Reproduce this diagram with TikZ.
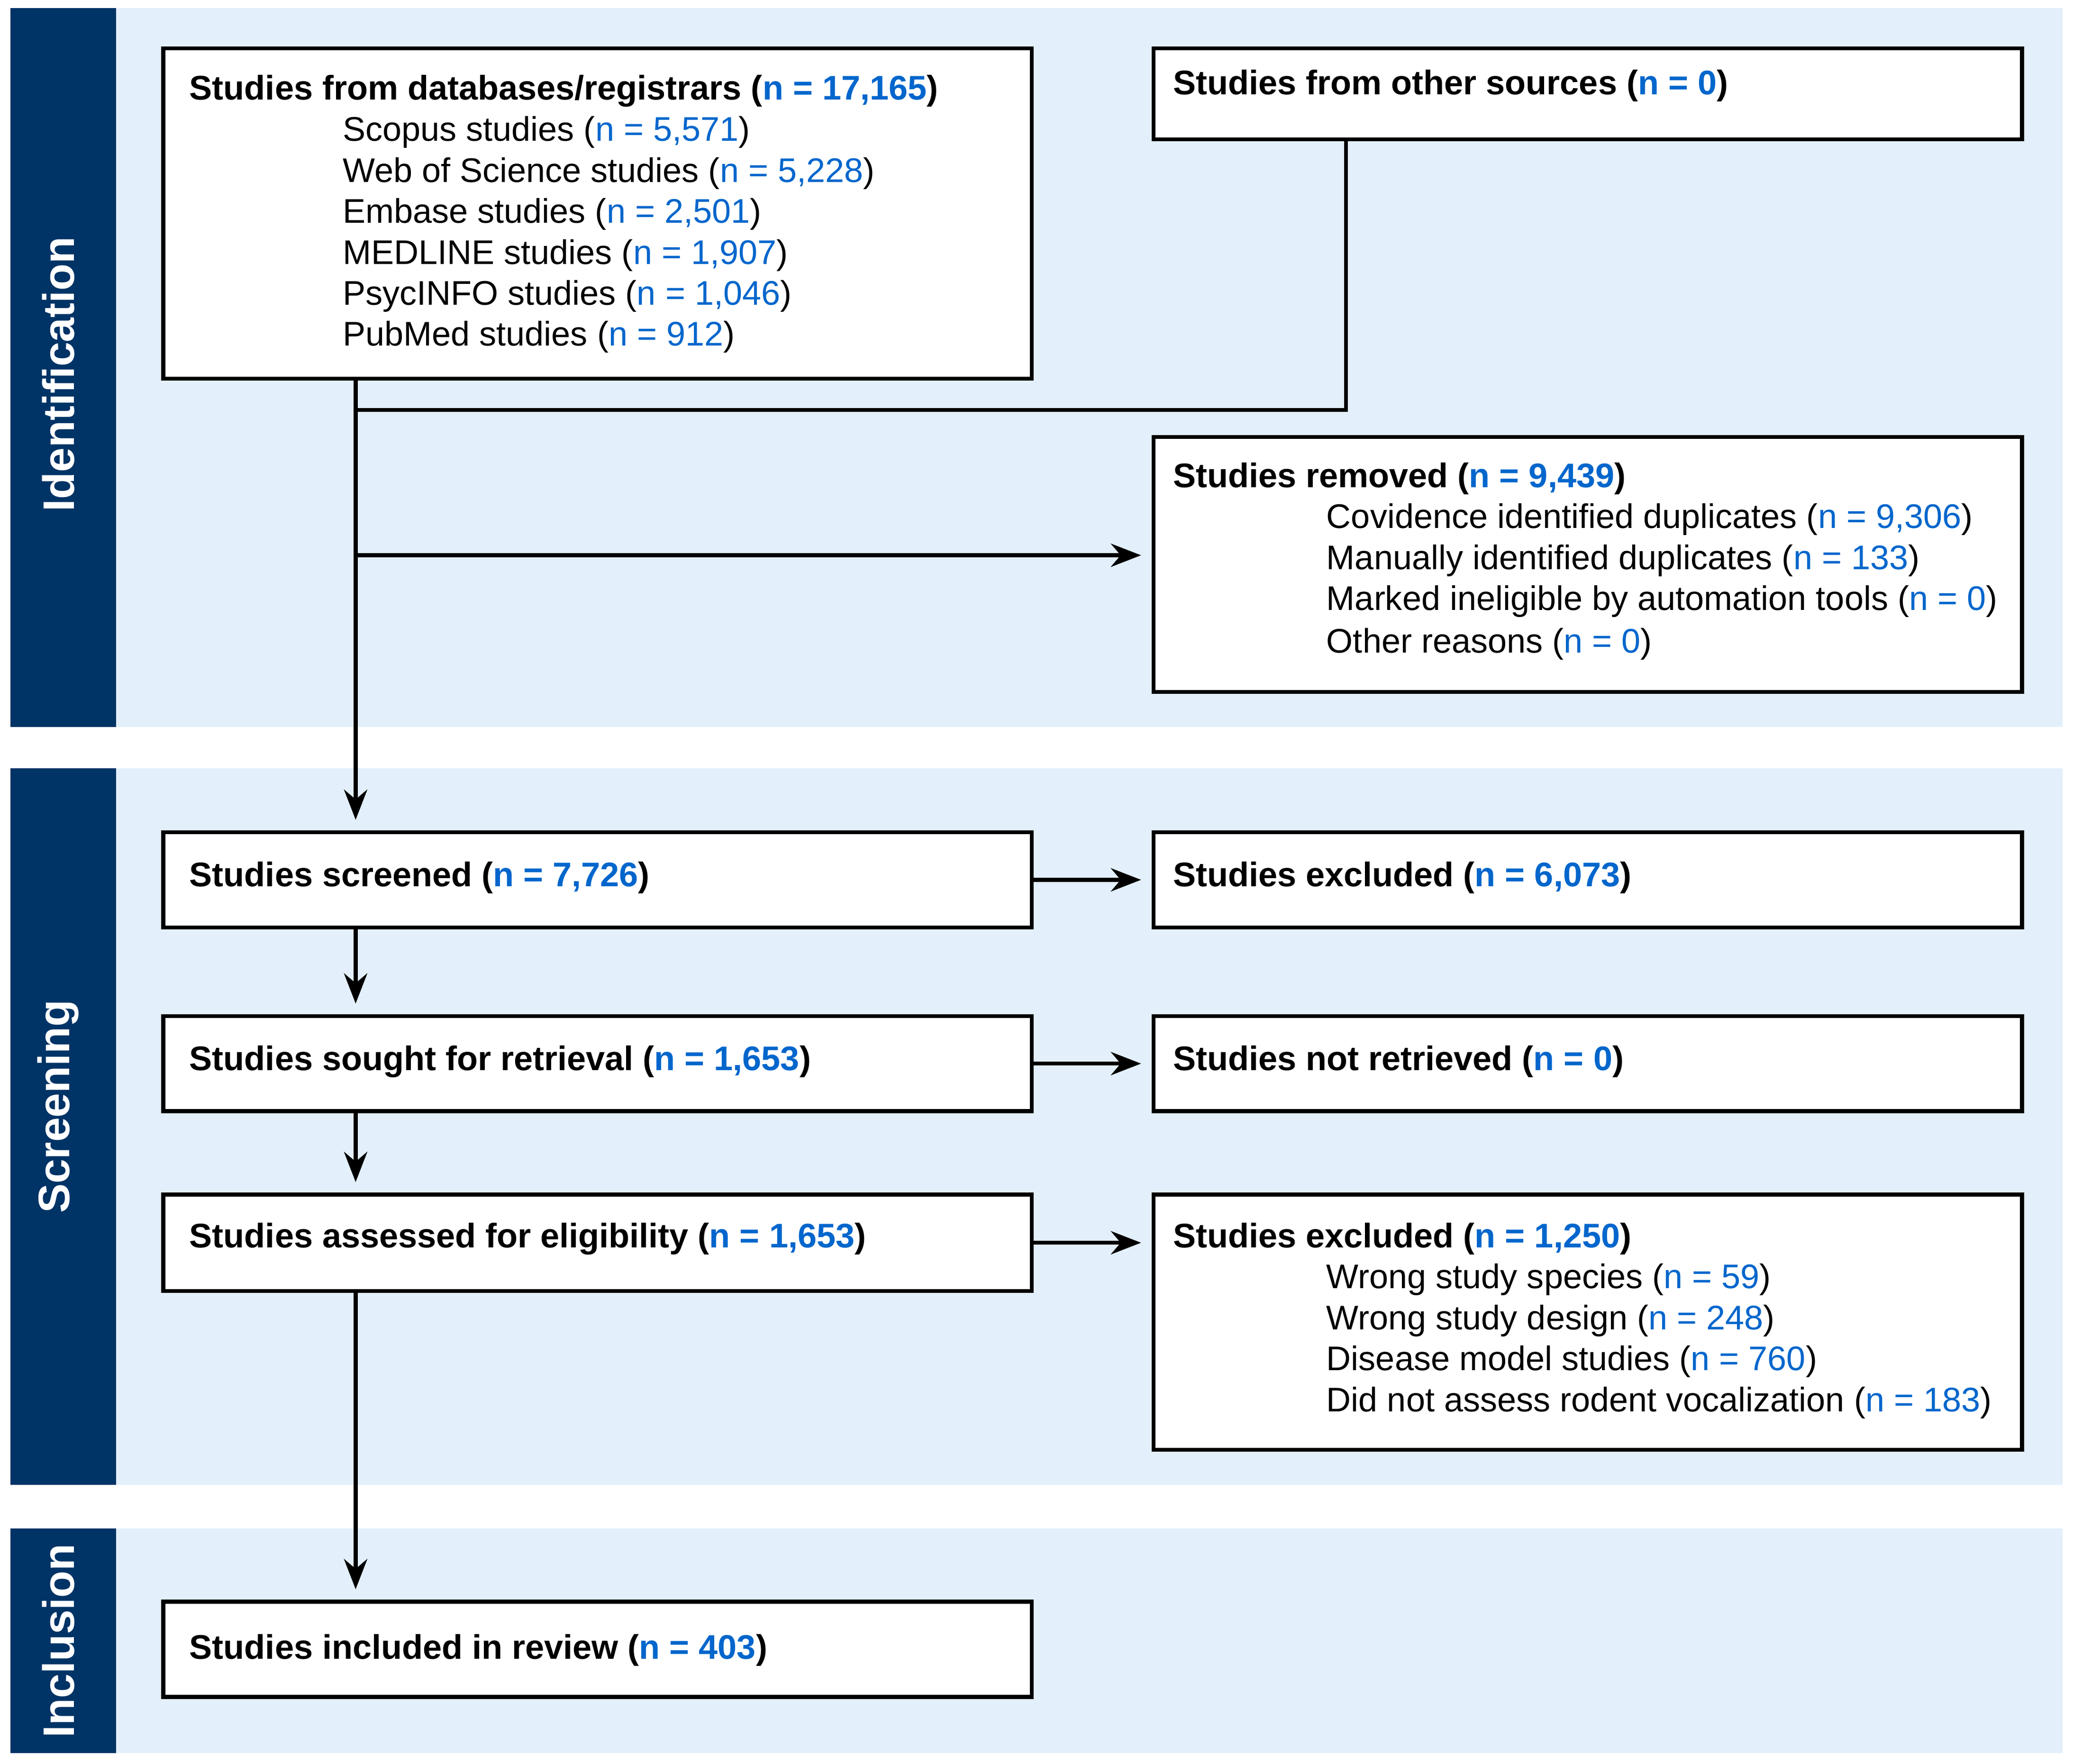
\documentclass[tikz,border=0pt]{standalone}
\usepackage{fontspec}
\setmainfont{Liberation Sans}
\usetikzlibrary{arrows.meta}
\definecolor{navy}{HTML}{003366}
\definecolor{lightbg}{HTML}{E3F0FB}
\definecolor{nblue}{HTML}{0066CC}
\newcommand\nb[1]{\textcolor{nblue}{#1}}
\begin{document}
\begin{tikzpicture}[x=0.02cm,y=-0.02cm,
  box/.style={draw=black,line width=1.7pt,fill=white,anchor=north west,inner sep=0pt},
  txt/.style={anchor=west,inner sep=0pt,font=\fontsize{14.7}{16}\selectfont},
  lab/.style={rotate=90,text=white,font=\fontsize{19}{22}\selectfont\bfseries},
  arr/.style={line width=1.7pt,-{Stealth[length=13pt,width=10pt]},shorten >=4.5pt},
  ln/.style={line width=1.7pt}]
\useasboundingbox (0,0) rectangle (1568,1334);
% bands
\fill[lightbg] (8,6) rectangle (1560,550);
\fill[navy] (8,6) rectangle (88,550);
\fill[lightbg] (8,581) rectangle (1560,1123);
\fill[navy] (8,581) rectangle (88,1123);
\fill[lightbg] (8,1156) rectangle (1560,1326);
\fill[navy] (8,1156) rectangle (88,1326);
\node[lab] (l1) at (44,283) {Identification};
\node[lab] (l2) at (44,837) {Screening};
\node[lab] (l3) at (44,1241) {Inclusion};
% boxes
\node[box,minimum width=657*0.02cm,minimum height=250*0.02cm] (A) at (122,35) {};
\node[box,minimum width=657*0.02cm,minimum height=69*0.02cm] (B) at (871,35) {};
\node[box,minimum width=657*0.02cm,minimum height=193*0.02cm] (R) at (871,329) {};
\node[box,minimum width=657*0.02cm,minimum height=72*0.02cm] (S) at (122,628) {};
\node[box,minimum width=657*0.02cm,minimum height=72*0.02cm] (E1) at (871,628) {};
\node[box,minimum width=657*0.02cm,minimum height=72*0.02cm] (G) at (122,767) {};
\node[box,minimum width=657*0.02cm,minimum height=72*0.02cm] (N) at (871,767) {};
\node[box,minimum width=657*0.02cm,minimum height=73*0.02cm] (F) at (122,902) {};
\node[box,minimum width=657*0.02cm,minimum height=193*0.02cm] (E2) at (871,902) {};
\node[box,minimum width=657*0.02cm,minimum height=72*0.02cm] (I) at (122,1210) {};
% texts
\node[txt] (ta) at (143,69) {\bfseries Studies from databases/registrars (\nb{n = 17,165})};
\node[txt] (ta1) at (259,100) {Scopus studies (\nb{n = 5,571})};
\node[txt] (ta2) at (259,131) {Web of Science studies (\nb{n = 5,228})};
\node[txt] (ta3) at (259,162) {Embase studies (\nb{n = 2,501})};
\node[txt] (ta4) at (259,193) {MEDLINE studies (\nb{n = 1,907})};
\node[txt] (ta5) at (259,224) {PsycINFO studies (\nb{n = 1,046})};
\node[txt] (ta6) at (259,255) {PubMed studies (\nb{n = 912})};
\node[txt] (tb) at (887,65) {\bfseries Studies from other sources (\nb{n = 0})};
\node[txt] (tr) at (887,362) {\bfseries Studies removed (\nb{n = 9,439})};
\node[txt] (tr1) at (1003,393) {Covidence identified duplicates (\nb{n = 9,306})};
\node[txt] (tr2) at (1003,424) {Manually identified duplicates (\nb{n = 133})};
\node[txt] (tr3) at (1003,455) {Marked ineligible by automation tools (\nb{n = 0})};
\node[txt] (tr4) at (1003,487) {Other reasons (\nb{n = 0})};
\node[txt] (ts) at (143,664) {\bfseries Studies screened (\nb{n = 7,726})};
\node[txt] (te1) at (887,664) {\bfseries Studies excluded (\nb{n = 6,073})};
\node[txt] (tg) at (143,803) {\bfseries Studies sought for retrieval (\nb{n = 1,653})};
\node[txt] (tn) at (887,803) {\bfseries Studies not retrieved (\nb{n = 0})};
\node[txt] (tf) at (143,937) {\bfseries Studies assessed for eligibility (\nb{n = 1,653})};
\node[txt] (te2) at (887,937) {\bfseries Studies excluded (\nb{n = 1,250})};
\node[txt] (te21) at (1003,968) {Wrong study species (\nb{n = 59})};
\node[txt] (te22) at (1003,999) {Wrong study design (\nb{n = 248})};
\node[txt] (te23) at (1003,1030) {Disease model studies (\nb{n = 760})};
\node[txt] (te24) at (1003,1061) {Did not assess rodent vocalization (\nb{n = 183})};
\node[txt] (ti) at (143,1248) {\bfseries Studies included in review (\nb{n = 403})};
% connectors
\coordinate (ja) at (269,285);
\coordinate (jb) at (1018,104);
\coordinate (jm) at (269,310);
\coordinate (jc) at (1018,310);
\coordinate (jr) at (269,420);
\coordinate (js) at (269,628);
\draw[ln] (jb) -- (jc) -- (jm);
\draw[arr] (ja) -- (js);
\draw[arr] (jr) -- (jr -| R.west);
\draw[arr] (S.east) -- (E1.west);
\draw[arr] (G.east) -- (N.west);
\draw[arr] (F.east) -- (F.east -| E2.west);
\draw[arr] (S.south -| js) -- (G.north -| js);
\draw[arr] (G.south -| js) -- (F.north -| js);
\draw[arr] (F.south -| js) -- (I.north -| js);
\end{tikzpicture}
\end{document}
